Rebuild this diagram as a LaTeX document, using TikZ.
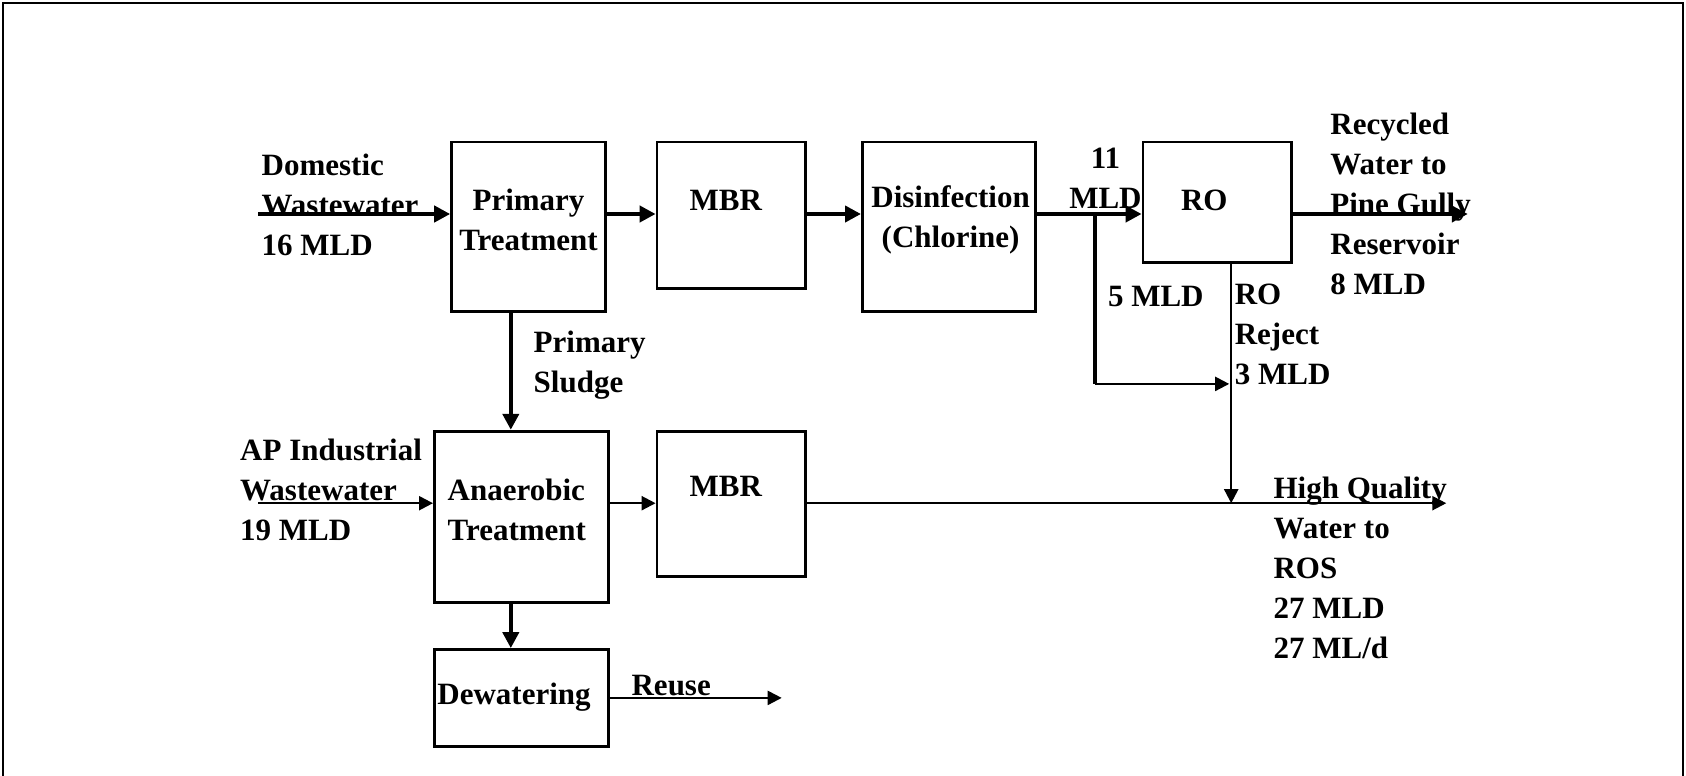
\documentclass[tikz,border=0pt]{standalone}
\usepackage{fontspec}
\setmainfont{Liberation Serif}
\usetikzlibrary{arrows.meta,fit}
\begin{document}
\begin{tikzpicture}[x=0.5pt,y=-0.5pt,
  box/.style={draw,line width=1.4pt,inner sep=0pt},
  txt/.style={font=\fontsize{15.5}{20}\selectfont\bfseries,inner sep=0pt,align=left},
  ctxt/.style={font=\fontsize{15.5}{20}\selectfont\bfseries,inner sep=0pt,align=center},
  thickarr/.style={line width=2.2pt,-{Triangle[length=8pt,width=8pt]}},
  thinarr/.style={line width=1.1pt,-{Triangle[length=7pt,width=7pt]}},
  thickln/.style={line width=2.2pt},
  thinln/.style={line width=1.1pt}]
\useasboundingbox (0,0) rectangle (1686,776);
% frame
\draw[line width=1.2pt] (3,780) -- (3,3) -- (1683,3) -- (1683,780);
% boxes
\node[box,fit={(451.6,141.9) (605.4,311.8)}] (pt) {};
\node[box,fit={(657,141.9) (805.4,288.2)}] (mbra) {};
\node[box,fit={(862.4,141.9) (1035.5,311.8)}] (dis) {};
\node[box,fit={(1143,141.9) (1291.4,262.4)}] (ro) {};
\node[box,fit={(434.4,431.2) (608.6,602.2)}] (an) {};
\node[box,fit={(657,431.2) (805.4,576.4)}] (mbrb) {};
\node[box,fit={(434.4,649.5) (608.6,746.3)}] (dew) {};
% box texts
\node[ctxt] (tpt) at (528.5,219.4) {Primary\\Treatment};
\node[ctxt] (tmbra) at (725.8,200) {MBR};
\node[ctxt] (tdis) at (950.6,219.4) {Disinfection\\(Chlorine)};
\node[ctxt] (tro) at (1204.3,200) {RO};
\node[txt,anchor=west] (tan) at (447.3,510) {Anaerobic\\Treatment};
\node[ctxt] (tmbrb) at (725.8,486) {MBR};
\node[txt,anchor=west] (tdew) at (437,696.8) {Dewatering};
% labels
\node[txt,anchor=west] (ldom) at (261.3,204.5) {Domestic\\Wastewater\\16 MLD};
\node[ctxt] (l11) at (1105.4,178.5) {11\\MLD};
\node[txt,anchor=west] (lrec) at (1330,204.3) {Recycled\\Water to\\Pine Gully\\Reservoir\\8 MLD};
\node[txt,anchor=west] (l5) at (1107.6,296.8) {5 MLD};
\node[txt,anchor=west] (lrej) at (1234.4,334) {RO\\Reject\\3 MLD};
\node[txt,anchor=west] (lps) at (533.3,365.6) {Primary\\Sludge};
\node[txt,anchor=west] (lap) at (239.8,490.3) {AP Industrial\\Wastewater\\19 MLD};
\node[txt,anchor=west] (lhq) at (1273.2,567.8) {High Quality\\Water to\\ROS\\27 MLD\\27 ML/d};
\node[txt,anchor=west] (lreuse) at (631.2,686) {Reuse};
% coordinates
\coordinate (main) at (0,214);
\coordinate (low) at (0,503.2);
\coordinate (domin) at (258,214);
\coordinate (apin) at (258,503.2);
\coordinate (recout) at (1467.8,214);
\coordinate (hqout) at (1446.3,503.2);
\coordinate (split) at (1094.7,214);
\coordinate (bend) at (1094.7,383.9);
\coordinate (rej) at (1231.2,0);
\coordinate (reuseout) at (781.7,697.9);
% connectors
\draw[thickarr] (domin) -- (domin -| pt.west);
\draw[thickarr] (pt.east |- main) -- (mbra.west |- main);
\draw[thickarr] (mbra.east |- main) -- (dis.west |- main);
\draw[thickarr] (dis.east |- main) -- (ro.west |- main);
\draw[thickarr] (ro.east |- main) -- (recout);
\draw[thickln] (split) -- (bend);
\draw[thinarr] (bend) -- ([xshift=-1pt]bend -| rej);
\draw[thinarr] (rej |- ro.south) -- (rej |- low);
\draw[thickarr] (pt.south -| 510.8,0) -- (an.north -| 510.8,0);
\draw[thinarr] (apin) -- (apin -| an.west);
\draw[thinarr] (an.east |- low) -- (mbrb.west |- low);
\draw[thinarr] (mbrb.east |- low) -- (hqout);
\draw[thickarr] (an.south -| 510.8,0) -- (dew.north -| 510.8,0);
\draw[thinarr] (dew.east |- reuseout) -- (reuseout);
\end{tikzpicture}
\end{document}
